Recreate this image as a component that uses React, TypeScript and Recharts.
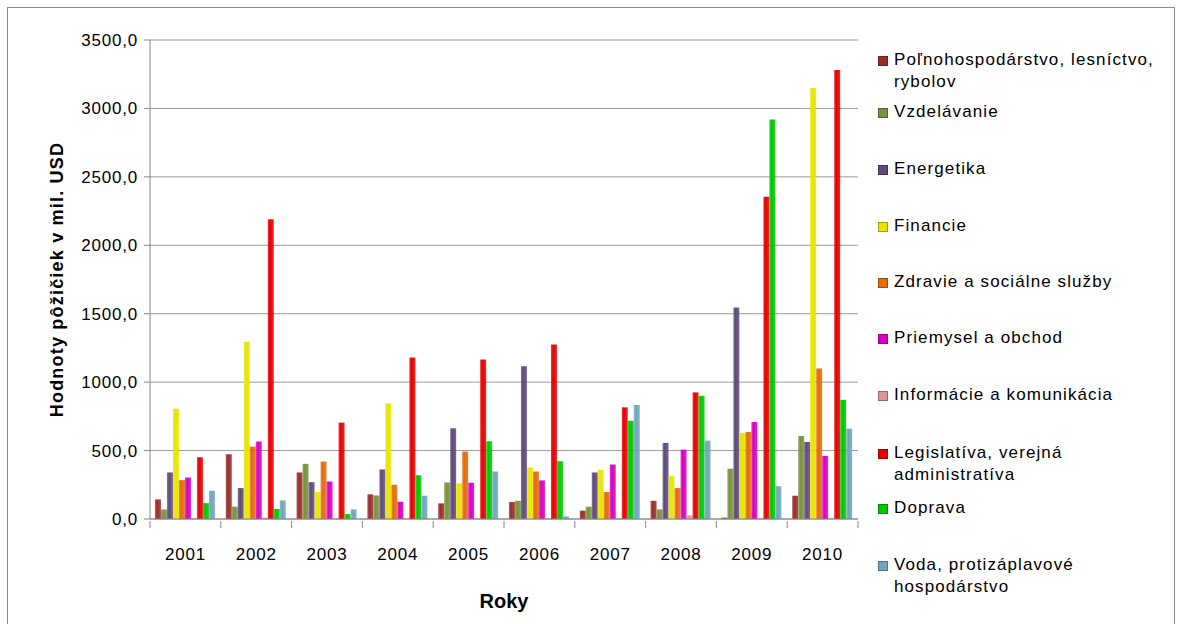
import React from 'react';
import { BarChart, Bar, XAxis, YAxis, CartesianGrid } from 'recharts';

const years = ['2001', '2002', '2003', '2004', '2005', '2006', '2007', '2008', '2009', '2010'];

const polnohospodarstvo = [143, 473, 340, 180, 114, 124, 61, 133, 10, 170];
const vzdelavanie = [70, 90, 403, 172, 267, 133, 90, 70, 367, 607];
const energetika = [340, 226, 269, 362, 663, 1117, 340, 556, 1545, 563];
const financie = [806, 1295, 197, 845, 260, 376, 359, 313, 629, 3150];
const zdravie = [284, 529, 420, 250, 493, 347, 197, 226, 636, 1100];
const priemysel = [303, 566, 274, 126, 265, 282, 398, 507, 709, 461];
const informacie = [5, 10, 5, 5, 5, 3, 3, 27, 5, 5];
const legislativa = [451, 2190, 704, 1180, 1165, 1275, 816, 925, 2355, 3280];
const doprava = [116, 73, 36, 320, 568, 422, 718, 900, 2920, 871];
const voda = [206, 136, 70, 170, 347, 19, 833, 573, 240, 660];

const yTicks = [0, 500, 1000, 1500, 2000, 2500, 3000, 3500];

const series = [
  { key: 'polno', name: 'Poľnohospodárstvo, lesníctvo, rybolov', lines: ['Poľnohospodárstvo, lesníctvo,', 'rybolov'], values: polnohospodarstvo, color: '#9B2D2A', top: 49 },
  { key: 'vzdel', name: 'Vzdelávanie', lines: ['Vzdelávanie'], values: vzdelavanie, color: '#77933C', top: 101 },
  { key: 'energ', name: 'Energetika', lines: ['Energetika'], values: energetika, color: '#604A7B', top: 158 },
  { key: 'fin', name: 'Financie', lines: ['Financie'], values: financie, color: '#E8E400', top: 215 },
  { key: 'zdr', name: 'Zdravie a sociálne služby', lines: ['Zdravie a sociálne služby'], values: zdravie, color: '#E46C0A', top: 271 },
  { key: 'priem', name: 'Priemysel a obchod', lines: ['Priemysel a obchod'], values: priemysel, color: '#D900C4', top: 327 },
  { key: 'info', name: 'Informácie a komunikácia', lines: ['Informácie a komunikácia'], values: informacie, color: '#D99694', top: 384 },
  { key: 'legis', name: 'Legislatíva, verejná administratíva', lines: ['Legislatíva, verejná', 'administratíva'], values: legislativa, color: '#E80000', top: 442 },
  { key: 'dop', name: 'Doprava', lines: ['Doprava'], values: doprava, color: '#00C800', top: 497 },
  { key: 'voda', name: 'Voda, protizáplavové hospodárstvo', lines: ['Voda, protizáplavové', 'hospodárstvo'], values: voda, color: '#6FA6BE', top: 554 },
];

const data = years.map((y, i) => {
  const row: Record<string, string | number> = { year: y };
  series.forEach((s) => {
    row[s.key] = s.values[i];
  });
  return row;
});

const CHART_W = 870;
const CHART_H = 624;
const PLOT_LEFT = 150;
const PLOT_RIGHT = 858;
const BAND = (PLOT_RIGHT - PLOT_LEFT) / years.length;
const FONT = '"Liberation Sans", Arial, sans-serif';

const XTick = (props: any) => {
  const { x, y, payload, index } = props;
  const left = x - BAND / 2;
  return (
    <g>
      <line x1={left} y1={y} x2={left} y2={y + 7} stroke="#888" />
      {index === years.length - 1 && (
        <line x1={x + BAND / 2} y1={y} x2={x + BAND / 2} y2={y + 7} stroke="#888" />
      )}
      <text x={x} y={y + 39} textAnchor="middle" fontSize={17} letterSpacing={0.8} fontFamily={FONT} fill="#000">
        {payload.value}
      </text>
    </g>
  );
};

export default function App() {
  return (
    <div style={{ position: 'absolute', left: 0, top: 0, width: 1177, height: 624, background: '#fff', overflow: 'hidden', fontFamily: FONT }}>
      <div style={{ position: 'absolute', left: 7, top: 7, width: 1166, height: 640, border: '1px solid #8a8a8a' }} />
      <div style={{ position: 'absolute', left: 0, top: 0 }}>
        <BarChart
          width={CHART_W}
          height={CHART_H}
          data={data}
          margin={{ top: 40, right: CHART_W - PLOT_RIGHT, bottom: 0, left: 90 }}
          barCategoryGap="7%"
          barGap={0}
        >
          <defs>
            {series.map((s) => (
              <linearGradient key={s.key} id={`g-${s.key}`} x1="0" y1="0" x2="1" y2="0">
                <stop offset="0%" stopColor={s.color} stopOpacity={0.75} />
                <stop offset="35%" stopColor={s.color} stopOpacity={1} />
                <stop offset="100%" stopColor={s.color} stopOpacity={0.85} />
              </linearGradient>
            ))}
          </defs>
          <CartesianGrid vertical={false} stroke="#9a9a9a" />
          <XAxis
            dataKey="year"
            tick={<XTick />}
            tickLine={false}
            tickSize={0}
            axisLine={{ stroke: '#888' }}
            interval={0}
            height={105}
            label={{ value: 'Roky', position: 'insideBottom', offset: 16, fontSize: 20, fontWeight: 'bold', fill: '#000', fontFamily: FONT }}
          />
          <YAxis
            domain={[0, 3500]}
            ticks={yTicks}
            width={60}
            tickSize={6}
            tickMargin={6}
            axisLine={{ stroke: '#888' }}
            tickLine={{ stroke: '#888' }}
            tick={{ fontSize: 17, fill: '#000', fontFamily: FONT, letterSpacing: 0.8 }}
            tickFormatter={(v: number) => v.toFixed(1).replace('.', ',')}
            label={{ value: 'Hodnoty pôžičiek v mil. USD', angle: -90, position: 'insideLeft', offset: -33, style: { textAnchor: 'middle', letterSpacing: 1.2 }, fontSize: 18, fontWeight: 'bold', fill: '#000', fontFamily: FONT }}
          />
          {series.map((s) => (
            <Bar key={s.key} dataKey={s.key} name={s.name} fill={`url(#g-${s.key})`} isAnimationActive={false} />
          ))}
        </BarChart>
      </div>
      {series.map((s) => (
        <div key={s.key} style={{ position: 'absolute', left: 878, top: s.top, fontSize: 17, letterSpacing: 1.1, lineHeight: '22px', color: '#000' }}>
          <span style={{ position: 'absolute', left: 0, top: 7, width: 8, height: 8, background: s.color, border: '0.5px solid rgba(0,0,0,0.3)' }} />
          <div style={{ marginLeft: 16 }}>
            {s.lines.map((l, i) => (
              <div key={i} style={{ whiteSpace: 'nowrap' }}>{l}</div>
            ))}
          </div>
        </div>
      ))}
    </div>
  );
}
